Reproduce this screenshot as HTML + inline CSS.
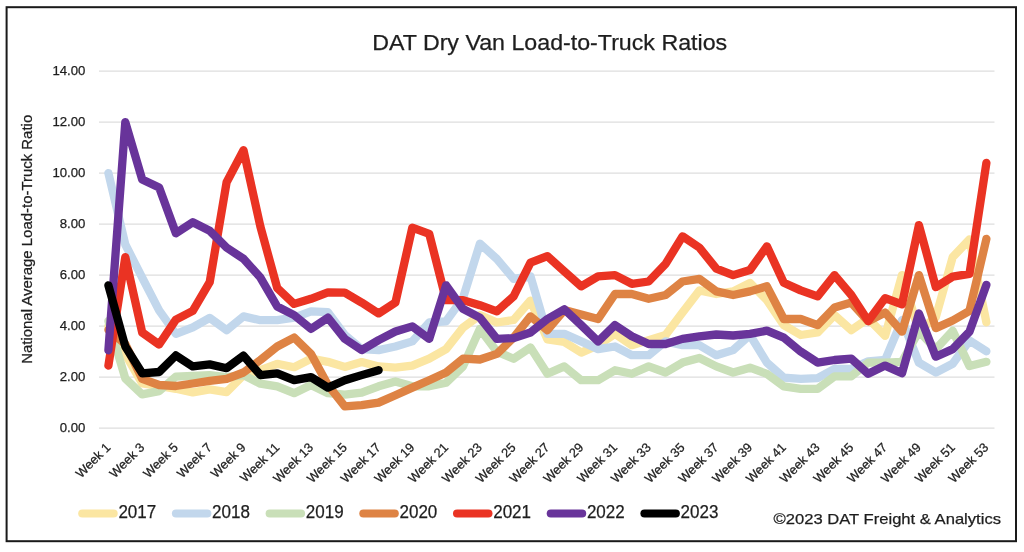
<!DOCTYPE html>
<html><head><meta charset="utf-8"><title>DAT Dry Van Load-to-Truck Ratios</title>
<style>
html,body{margin:0;padding:0;background:#fff;}
body{width:1024px;height:552px;overflow:hidden;font-family:"Liberation Sans",sans-serif;}
svg{display:block;filter:blur(0.35px);}
text{font-family:"Liberation Sans",sans-serif;fill:#1e1e1e;stroke:#1e1e1e;stroke-width:0.25px;}
</style></head><body>
<svg width="1024" height="552" viewBox="0 0 1024 552">
<rect x="0" y="0" width="1024" height="552" fill="#fff"/>
<rect x="6.6" y="7.2" width="1009.4" height="534" fill="#fff" stroke="#1a1a1a" stroke-width="2"/>

<g stroke="#d6d6d6" stroke-width="1">
<line x1="99" y1="428.1" x2="994.5" y2="428.1"/>
<line x1="99" y1="377.1" x2="994.5" y2="377.1"/>
<line x1="99" y1="326.1" x2="994.5" y2="326.1"/>
<line x1="99" y1="275.1" x2="994.5" y2="275.1"/>
<line x1="99" y1="224.1" x2="994.5" y2="224.1"/>
<line x1="99" y1="173.1" x2="994.5" y2="173.1"/>
<line x1="99" y1="122.1" x2="994.5" y2="122.1"/>
<line x1="99" y1="71.1" x2="994.5" y2="71.1"/>
</g>
<g font-size="13.2" text-anchor="end">
<text x="85.4" y="432.4">0.00</text>
<text x="85.4" y="381.4">2.00</text>
<text x="85.4" y="330.4">4.00</text>
<text x="85.4" y="279.4">6.00</text>
<text x="85.4" y="228.4">8.00</text>
<text x="85.4" y="177.4">10.00</text>
<text x="85.4" y="126.4">12.00</text>
<text x="85.4" y="75.4">14.00</text>
</g>
<text x="549.7" y="50" font-size="21.6" text-anchor="middle" textLength="355" lengthAdjust="spacingAndGlyphs">DAT Dry Van Load-to-Truck Ratios</text>
<text transform="translate(32.4,239.3) rotate(-90)" font-size="14.2" stroke-width="0.35" text-anchor="middle" textLength="249" lengthAdjust="spacingAndGlyphs">National Average Load-to-Truck Ratio</text>
<g font-size="12.8" text-anchor="end">
<text transform="translate(111.4,448.2) rotate(-45)">Week 1</text>
<text transform="translate(145.2,448.2) rotate(-45)">Week 3</text>
<text transform="translate(178.9,448.2) rotate(-45)">Week 5</text>
<text transform="translate(212.7,448.2) rotate(-45)">Week 7</text>
<text transform="translate(246.5,448.2) rotate(-45)">Week 9</text>
<text transform="translate(280.2,448.2) rotate(-45)">Week 11</text>
<text transform="translate(314.0,448.2) rotate(-45)">Week 13</text>
<text transform="translate(347.8,448.2) rotate(-45)">Week 15</text>
<text transform="translate(381.6,448.2) rotate(-45)">Week 17</text>
<text transform="translate(415.3,448.2) rotate(-45)">Week 19</text>
<text transform="translate(449.1,448.2) rotate(-45)">Week 21</text>
<text transform="translate(482.9,448.2) rotate(-45)">Week 23</text>
<text transform="translate(516.6,448.2) rotate(-45)">Week 25</text>
<text transform="translate(550.4,448.2) rotate(-45)">Week 27</text>
<text transform="translate(584.2,448.2) rotate(-45)">Week 29</text>
<text transform="translate(618.0,448.2) rotate(-45)">Week 31</text>
<text transform="translate(651.7,448.2) rotate(-45)">Week 33</text>
<text transform="translate(685.5,448.2) rotate(-45)">Week 35</text>
<text transform="translate(719.3,448.2) rotate(-45)">Week 37</text>
<text transform="translate(753.0,448.2) rotate(-45)">Week 39</text>
<text transform="translate(786.8,448.2) rotate(-45)">Week 41</text>
<text transform="translate(820.6,448.2) rotate(-45)">Week 43</text>
<text transform="translate(854.3,448.2) rotate(-45)">Week 45</text>
<text transform="translate(888.1,448.2) rotate(-45)">Week 47</text>
<text transform="translate(921.9,448.2) rotate(-45)">Week 49</text>
<text transform="translate(955.7,448.2) rotate(-45)">Week 51</text>
<text transform="translate(989.4,448.2) rotate(-45)">Week 53</text>
</g>
<g fill="none" stroke-width="8.3" stroke-linecap="round" stroke-linejoin="round">
<polyline stroke="#FBE6A2" points="108.4,326.1 125.3,354.2 142.2,383.5 159.1,386.0 175.9,388.8 192.8,392.4 209.7,389.3 226.6,392.1 243.5,375.1 260.4,370.2 277.2,363.8 294.1,367.2 311.0,358.7 327.9,361.8 344.8,366.9 361.7,362.1 378.6,366.4 395.4,367.7 412.3,365.6 429.2,358.7 446.1,349.1 463.0,327.6 479.9,315.1 496.8,322.5 513.6,320.0 530.5,300.6 547.4,339.4 564.3,341.9 581.2,352.6 598.1,345.2 615.0,333.8 631.8,345.2 648.7,340.1 665.6,335.0 682.5,312.6 699.4,290.4 716.3,294.0 733.1,291.4 750.0,283.0 766.9,300.1 783.8,325.1 800.7,335.0 817.6,332.5 834.5,315.1 851.3,330.2 868.2,318.5 885.1,335.8 902.0,275.1 918.9,331.2 935.8,317.2 952.7,257.2 969.5,239.4 986.4,322.3"/>
<polyline stroke="#C2D7EC" points="108.4,173.1 125.3,244.5 142.2,277.6 159.1,310.3 175.9,333.8 192.8,327.4 209.7,317.9 226.6,330.2 243.5,316.4 260.4,320.2 277.2,320.2 294.1,317.7 311.0,311.3 327.9,312.1 344.8,335.0 361.7,349.1 378.6,350.1 395.4,346.5 412.3,341.4 429.2,322.5 446.1,321.3 463.0,298.1 479.9,243.7 496.8,258.8 513.6,278.9 530.5,276.4 547.4,333.8 564.3,333.8 581.2,341.4 598.1,349.1 615.0,346.5 631.8,355.2 648.7,355.2 665.6,341.4 682.5,345.2 699.4,345.2 716.3,355.2 733.1,350.1 750.0,335.0 766.9,362.6 783.8,377.6 800.7,378.9 817.6,378.1 834.5,368.9 851.3,368.9 868.2,361.3 885.1,360.0 902.0,320.0 918.9,362.6 935.8,372.5 952.7,363.8 969.5,340.6 986.4,351.3"/>
<polyline stroke="#C9DFB8" points="108.4,321.0 125.3,378.4 142.2,394.4 159.1,391.1 175.9,376.6 192.8,375.8 209.7,375.1 226.6,377.1 243.5,375.1 260.4,383.7 277.2,386.3 294.1,393.2 311.0,385.0 327.9,393.2 344.8,394.7 361.7,392.7 378.6,386.3 395.4,381.4 412.3,386.3 429.2,386.3 446.1,382.7 463.0,366.4 479.9,328.9 496.8,351.6 513.6,358.7 530.5,347.5 547.4,373.8 564.3,366.4 581.2,380.2 598.1,380.2 615.0,370.2 631.8,373.8 648.7,366.4 665.6,372.5 682.5,362.6 699.4,358.0 716.3,366.4 733.1,372.5 750.0,367.7 766.9,373.8 783.8,386.3 800.7,388.8 817.6,388.8 834.5,376.3 851.3,376.3 868.2,362.6 885.1,362.6 902.0,361.8 918.9,331.2 935.8,349.1 952.7,330.7 969.5,366.1 986.4,361.8"/>
<polyline stroke="#DE8344" points="108.4,329.9 125.3,344.0 142.2,378.9 159.1,385.0 175.9,386.0 192.8,383.5 209.7,380.9 226.6,378.9 243.5,372.5 260.4,360.0 277.2,346.5 294.1,337.6 311.0,353.9 327.9,385.0 344.8,406.4 361.7,405.2 378.6,402.6 395.4,395.2 412.3,387.6 429.2,380.2 446.1,372.5 463.0,358.7 479.9,359.5 496.8,353.9 513.6,337.6 530.5,316.4 547.4,330.2 564.3,310.0 581.2,314.6 598.1,319.0 615.0,294.0 631.8,294.0 648.7,298.8 665.6,295.0 682.5,281.5 699.4,278.9 716.3,291.4 733.1,295.0 750.0,291.4 766.9,286.3 783.8,319.0 800.7,319.0 817.6,325.1 834.5,307.5 851.3,302.6 868.2,321.3 885.1,312.6 902.0,331.7 918.9,275.1 935.8,328.1 952.7,320.5 969.5,310.8 986.4,238.9"/>
<polyline stroke="#EA3323" points="108.4,365.6 125.3,257.2 142.2,332.5 159.1,344.5 175.9,319.7 192.8,310.8 209.7,282.2 226.6,182.3 243.5,150.2 260.4,226.7 277.2,287.9 294.1,303.9 311.0,298.8 327.9,292.4 344.8,292.7 361.7,302.6 378.6,313.4 395.4,302.6 412.3,227.7 429.2,233.8 446.1,300.1 463.0,300.1 479.9,305.2 496.8,311.3 513.6,296.3 530.5,262.6 547.4,256.2 564.3,271.3 581.2,286.3 598.1,276.4 615.0,275.1 631.8,283.8 648.7,281.5 665.6,263.9 682.5,236.3 699.4,247.6 716.3,268.7 733.1,275.1 750.0,270.0 766.9,246.3 783.8,282.8 800.7,290.4 817.6,296.3 834.5,275.1 851.3,295.0 868.2,321.0 885.1,298.1 902.0,304.4 918.9,225.1 935.8,287.1 952.7,276.6 969.5,273.8 986.4,162.9"/>
<polyline stroke="#68349A" points="108.4,350.3 125.3,122.1 142.2,179.5 159.1,187.4 175.9,233.3 192.8,222.3 209.7,230.7 226.6,247.6 243.5,258.8 260.4,277.6 277.2,306.5 294.1,315.1 311.0,328.9 327.9,317.7 344.8,338.9 361.7,350.1 378.6,340.1 395.4,331.5 412.3,326.4 429.2,338.9 446.1,285.3 463.0,308.8 479.9,317.7 496.8,338.9 513.6,338.1 530.5,332.5 547.4,319.0 564.3,309.3 581.2,325.1 598.1,341.4 615.0,325.1 631.8,336.3 648.7,344.0 665.6,344.0 682.5,338.9 699.4,336.3 716.3,334.5 733.1,335.5 750.0,333.8 766.9,330.7 783.8,337.6 800.7,351.6 817.6,362.6 834.5,360.0 851.3,358.7 868.2,373.8 885.1,365.6 902.0,373.3 918.9,313.4 935.8,356.7 952.7,349.1 969.5,331.7 986.4,284.8"/>
<polyline stroke="#000000" points="108.4,285.3 125.3,346.5 142.2,373.3 159.1,372.0 175.9,355.4 192.8,366.4 209.7,364.4 226.6,368.2 243.5,355.7 260.4,375.1 277.2,373.3 294.1,380.2 311.0,377.1 327.9,387.6 344.8,380.2 361.7,375.1 378.6,370.2"/>
</g>
<g stroke-width="8.2" stroke-linecap="round" font-size="17.6">
<line x1="82.3" y1="513.5" x2="113.6" y2="513.5" stroke="#FBE6A2"/>
<text x="118.4" y="518.3" stroke="#1e1e1e" stroke-width="0.35" textLength="37.8" lengthAdjust="spacingAndGlyphs">2017</text>
<line x1="176.0" y1="513.5" x2="207.3" y2="513.5" stroke="#C2D7EC"/>
<text x="212.1" y="518.3" stroke="#1e1e1e" stroke-width="0.35" textLength="37.8" lengthAdjust="spacingAndGlyphs">2018</text>
<line x1="269.7" y1="513.5" x2="301.0" y2="513.5" stroke="#C9DFB8"/>
<text x="305.8" y="518.3" stroke="#1e1e1e" stroke-width="0.35" textLength="37.8" lengthAdjust="spacingAndGlyphs">2019</text>
<line x1="363.4" y1="513.5" x2="394.7" y2="513.5" stroke="#DE8344"/>
<text x="399.5" y="518.3" stroke="#1e1e1e" stroke-width="0.35" textLength="37.8" lengthAdjust="spacingAndGlyphs">2020</text>
<line x1="457.1" y1="513.5" x2="488.4" y2="513.5" stroke="#EA3323"/>
<text x="493.2" y="518.3" stroke="#1e1e1e" stroke-width="0.35" textLength="37.8" lengthAdjust="spacingAndGlyphs">2021</text>
<line x1="550.8" y1="513.5" x2="582.1" y2="513.5" stroke="#68349A"/>
<text x="586.9" y="518.3" stroke="#1e1e1e" stroke-width="0.35" textLength="37.8" lengthAdjust="spacingAndGlyphs">2022</text>
<line x1="644.5" y1="513.5" x2="675.8" y2="513.5" stroke="#000000"/>
<text x="680.6" y="518.3" stroke="#1e1e1e" stroke-width="0.35" textLength="37.8" lengthAdjust="spacingAndGlyphs">2023</text>
</g>
<text x="773.5" y="524" font-size="15" textLength="227.5" lengthAdjust="spacingAndGlyphs">©2023 DAT Freight &amp; Analytics</text>
</svg></body></html>
